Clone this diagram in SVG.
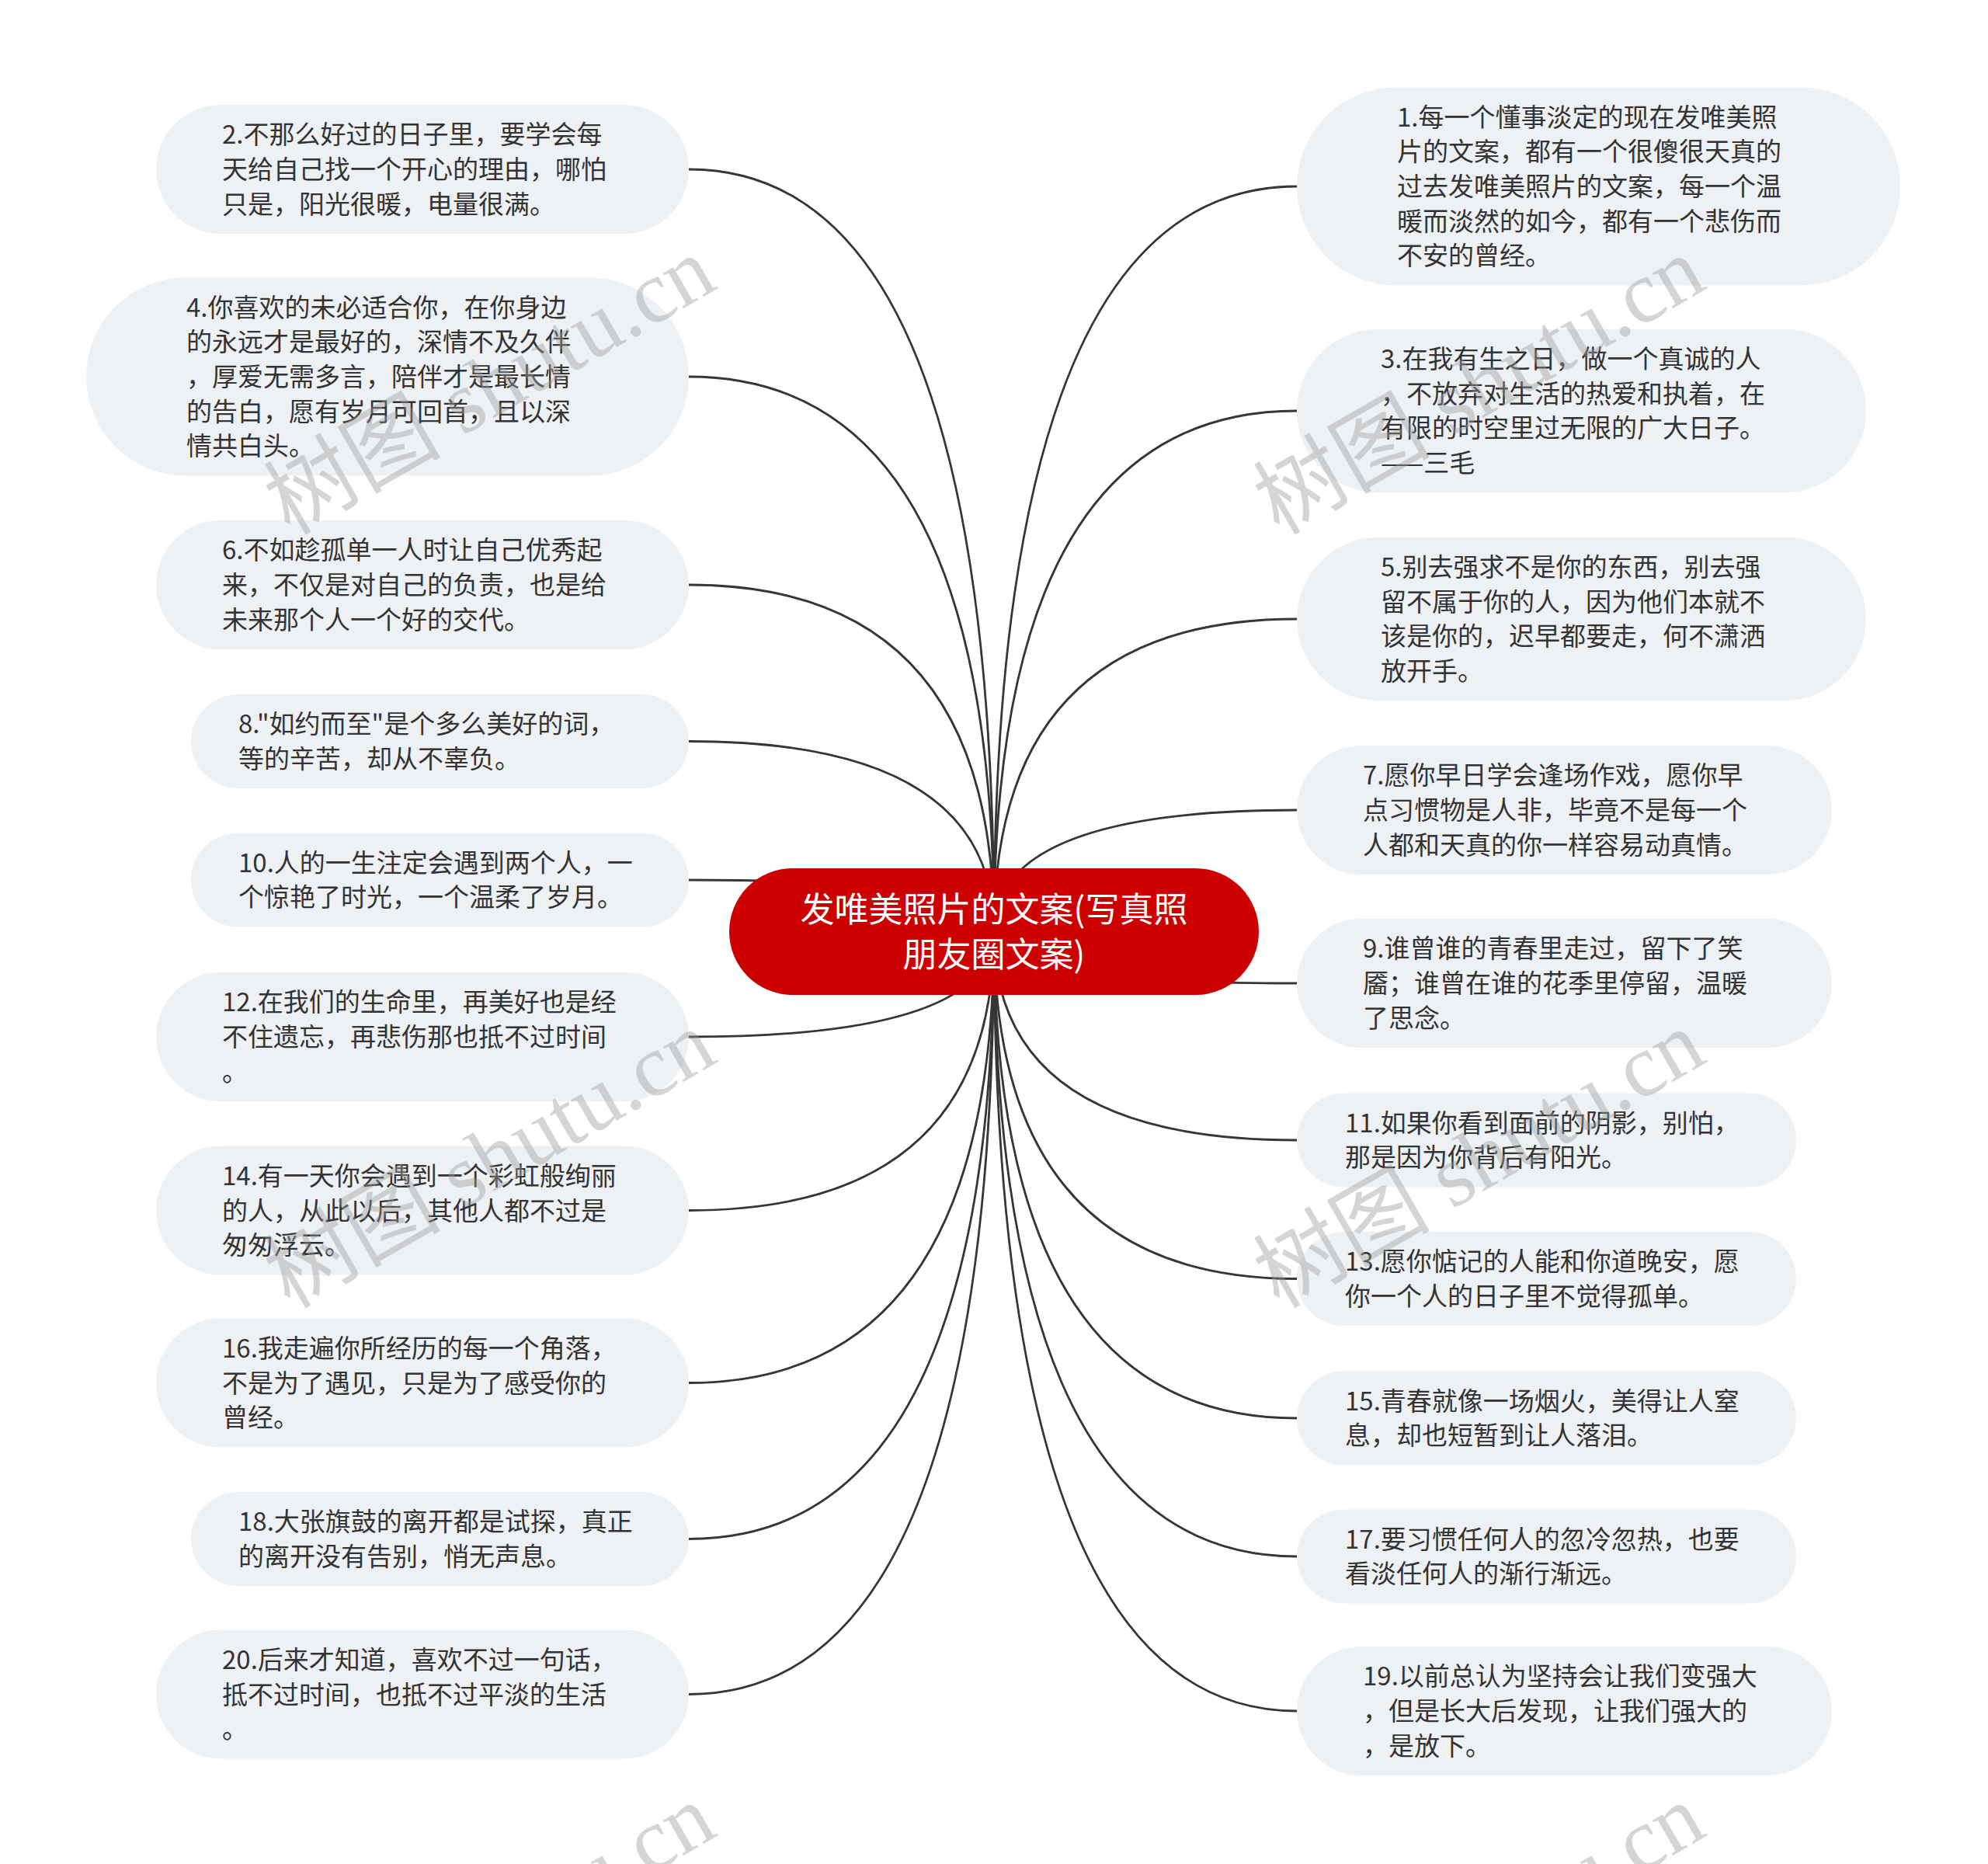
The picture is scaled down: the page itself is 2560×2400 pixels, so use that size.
<svg xmlns="http://www.w3.org/2000/svg" width="2560" height="2400" viewBox="0 0 2560 2400">
<style>
.bg{fill:#ffffff}
.node rect{fill:#eef1f4}
.node text{font-family:"Noto Sans CJK SC","Microsoft YaHei",sans-serif;font-size:33px;fill:#333333}
.root rect{fill:#cc0000}
.root text{font-family:"Noto Sans CJK SC",sans-serif;font-size:44px;fill:#ffffff;text-anchor:middle}
.links path{fill:none;stroke:#363636;stroke-width:2.8}
.wm text{font-family:"Liberation Serif","Noto Sans CJK SC",serif;font-size:114px;fill:#9a9a9a;fill-opacity:0.42;text-anchor:middle}
</style>
<rect class="bg" x="0" y="0" width="2560" height="2400"/>
<g id="connectors" class="links">
<path d="M887,218 Q1280,218 1280,1199"/>
<path d="M887,485 Q1280,485 1280,1199"/>
<path d="M887,753 Q1280,753 1280,1199"/>
<path d="M887,954.5 Q1280,954.5 1280,1199"/>
<path d="M887,1133 Q1280,1133 1280,1199"/>
<path d="M887,1335 Q1280,1335 1280,1199"/>
<path d="M887,1558.5 Q1280,1558.5 1280,1199"/>
<path d="M887,1780.5 Q1280,1780.5 1280,1199"/>
<path d="M887,1981.5 Q1280,1981.5 1280,1199"/>
<path d="M887,2181.5 Q1280,2181.5 1280,1199"/>
<path d="M1670,240 Q1280,240 1280,1199"/>
<path d="M1670,529 Q1280,529 1280,1199"/>
<path d="M1670,797 Q1280,797 1280,1199"/>
<path d="M1670,1043 Q1280,1043 1280,1199"/>
<path d="M1670,1266 Q1280,1266 1280,1199"/>
<path d="M1670,1468 Q1280,1468 1280,1199"/>
<path d="M1670,1646.5 Q1280,1646.5 1280,1199"/>
<path d="M1670,1826 Q1280,1826 1280,1199"/>
<path d="M1670,2004 Q1280,2004 1280,1199"/>
<path d="M1670,2203 Q1280,2203 1280,1199"/>
</g>
<g id="n2" class="node"><rect x="201" y="135" width="686" height="166" rx="83"/>
<text x="286"><tspan x="286" y="185.4">2.不那么好过的日子里，要学会每</tspan><tspan x="286" y="230">天给自己找一个开心的理由，哪怕</tspan><tspan x="286" y="274.6">只是，阳光很暖，电量很满。</tspan></text></g>
<g id="n4" class="node"><rect x="111" y="357.5" width="776" height="255" rx="127.5"/>
<text x="240"><tspan x="240" y="407.8">4.你喜欢的未必适合你，在你身边</tspan><tspan x="240" y="452.4">的永远才是最好的，深情不及久伴</tspan><tspan x="240" y="497">，厚爱无需多言，陪伴才是最长情</tspan><tspan x="240" y="541.6">的告白，愿有岁月可回首，且以深</tspan><tspan x="240" y="586.2">情共白头。</tspan></text></g>
<g id="n6" class="node"><rect x="201" y="670" width="686" height="166" rx="83"/>
<text x="286"><tspan x="286" y="720.4">6.不如趁孤单一人时让自己优秀起</tspan><tspan x="286" y="765">来，不仅是对自己的负责，也是给</tspan><tspan x="286" y="809.6">未来那个人一个好的交代。</tspan></text></g>
<g id="n8" class="node"><rect x="246" y="894" width="641" height="121" rx="60.5"/>
<text x="307"><tspan x="307" y="944.2">8."如约而至"是个多么美好的词，</tspan><tspan x="307" y="988.8">等的辛苦，却从不辜负。</tspan></text></g>
<g id="n10" class="node"><rect x="246" y="1072.5" width="641" height="121" rx="60.5"/>
<text x="307"><tspan x="307" y="1122.7">10.人的一生注定会遇到两个人，一</tspan><tspan x="307" y="1167.3">个惊艳了时光，一个温柔了岁月。</tspan></text></g>
<g id="n12" class="node"><rect x="201" y="1252" width="686" height="166" rx="83"/>
<text x="286"><tspan x="286" y="1302.4">12.在我们的生命里，再美好也是经</tspan><tspan x="286" y="1347">不住遗忘，再悲伤那也抵不过时间</tspan><tspan x="286" y="1391.6">。</tspan></text></g>
<g id="n14" class="node"><rect x="201" y="1475.5" width="686" height="166" rx="83"/>
<text x="286"><tspan x="286" y="1525.9">14.有一天你会遇到一个彩虹般绚丽</tspan><tspan x="286" y="1570.5">的人，从此以后，其他人都不过是</tspan><tspan x="286" y="1615.1">匆匆浮云。</tspan></text></g>
<g id="n16" class="node"><rect x="201" y="1697.5" width="686" height="166" rx="83"/>
<text x="286"><tspan x="286" y="1747.9">16.我走遍你所经历的每一个角落，</tspan><tspan x="286" y="1792.5">不是为了遇见，只是为了感受你的</tspan><tspan x="286" y="1837.1">曾经。</tspan></text></g>
<g id="n18" class="node"><rect x="246" y="1921" width="641" height="121" rx="60.5"/>
<text x="307"><tspan x="307" y="1971.2">18.大张旗鼓的离开都是试探，真正</tspan><tspan x="307" y="2015.8">的离开没有告别，悄无声息。</tspan></text></g>
<g id="n20" class="node"><rect x="201" y="2098.5" width="686" height="166" rx="83"/>
<text x="286"><tspan x="286" y="2148.9">20.后来才知道，喜欢不过一句话，</tspan><tspan x="286" y="2193.5">抵不过时间，也抵不过平淡的生活</tspan><tspan x="286" y="2238.1">。</tspan></text></g>
<g id="n1" class="node"><rect x="1670" y="112.5" width="777" height="255" rx="127.5"/>
<text x="1799"><tspan x="1799" y="162.8">1.每一个懂事淡定的现在发唯美照</tspan><tspan x="1799" y="207.4">片的文案，都有一个很傻很天真的</tspan><tspan x="1799" y="252">过去发唯美照片的文案，每一个温</tspan><tspan x="1799" y="296.6">暖而淡然的如今，都有一个悲伤而</tspan><tspan x="1799" y="341.2">不安的曾经。</tspan></text></g>
<g id="n3" class="node"><rect x="1670" y="423.8" width="733" height="210.4" rx="105.2"/>
<text x="1778"><tspan x="1778" y="474.1">3.在我有生之日，做一个真诚的人</tspan><tspan x="1778" y="518.7">，不放弃对生活的热爱和执着，在</tspan><tspan x="1778" y="563.3">有限的时空里过无限的广大日子。</tspan><tspan x="1778" y="607.9">——三毛</tspan></text></g>
<g id="n5" class="node"><rect x="1670" y="691.8" width="733" height="210.4" rx="105.2"/>
<text x="1778"><tspan x="1778" y="742.1">5.别去强求不是你的东西，别去强</tspan><tspan x="1778" y="786.7">留不属于你的人，因为他们本就不</tspan><tspan x="1778" y="831.3">该是你的，迟早都要走，何不潇洒</tspan><tspan x="1778" y="875.9">放开手。</tspan></text></g>
<g id="n7" class="node"><rect x="1670" y="960" width="689" height="166" rx="83"/>
<text x="1755"><tspan x="1755" y="1010.4">7.愿你早日学会逢场作戏，愿你早</tspan><tspan x="1755" y="1055">点习惯物是人非，毕竟不是每一个</tspan><tspan x="1755" y="1099.6">人都和天真的你一样容易动真情。</tspan></text></g>
<g id="n9" class="node"><rect x="1670" y="1183" width="689" height="166" rx="83"/>
<text x="1755"><tspan x="1755" y="1233.4">9.谁曾谁的青春里走过，留下了笑</tspan><tspan x="1755" y="1278">靥；谁曾在谁的花季里停留，温暖</tspan><tspan x="1755" y="1322.6">了思念。</tspan></text></g>
<g id="n11" class="node"><rect x="1670" y="1407.5" width="643" height="121" rx="60.5"/>
<text x="1732"><tspan x="1732" y="1457.7">11.如果你看到面前的阴影，别怕，</tspan><tspan x="1732" y="1502.3">那是因为你背后有阳光。</tspan></text></g>
<g id="n13" class="node"><rect x="1670" y="1586" width="643" height="121" rx="60.5"/>
<text x="1732"><tspan x="1732" y="1636.2">13.愿你惦记的人能和你道晚安，愿</tspan><tspan x="1732" y="1680.8">你一个人的日子里不觉得孤单。</tspan></text></g>
<g id="n15" class="node"><rect x="1670" y="1765.5" width="643" height="121" rx="60.5"/>
<text x="1732"><tspan x="1732" y="1815.7">15.青春就像一场烟火，美得让人窒</tspan><tspan x="1732" y="1860.3">息，却也短暂到让人落泪。</tspan></text></g>
<g id="n17" class="node"><rect x="1670" y="1943.5" width="643" height="121" rx="60.5"/>
<text x="1732"><tspan x="1732" y="1993.7">17.要习惯任何人的忽冷忽热，也要</tspan><tspan x="1732" y="2038.3">看淡任何人的渐行渐远。</tspan></text></g>
<g id="n19" class="node"><rect x="1670" y="2120" width="689" height="166" rx="83"/>
<text x="1755"><tspan x="1755" y="2170.4">19.以前总认为坚持会让我们变强大</tspan><tspan x="1755" y="2215">，但是长大后发现，让我们强大的</tspan><tspan x="1755" y="2259.6">，是放下。</tspan></text></g>
<g id="root" class="root"><rect x="939" y="1118" width="682" height="163" rx="81.5"/>
<text x="1280"><tspan x="1280" y="1187">发唯美照片的文案(写真照</tspan><tspan x="1280" y="1245">朋友圈文案)</tspan></text></g>
<g id="watermark" class="wm">
<text transform="translate(650,530) rotate(-30)">树图 shutu.cn</text>
<text transform="translate(1924,530) rotate(-30)">树图 shutu.cn</text>
<text transform="translate(650,1526) rotate(-30)">树图 shutu.cn</text>
<text transform="translate(1924,1526) rotate(-30)">树图 shutu.cn</text>
<text transform="translate(650,2522) rotate(-30)">树图 shutu.cn</text>
<text transform="translate(1924,2522) rotate(-30)">树图 shutu.cn</text>
</g>
</svg>
